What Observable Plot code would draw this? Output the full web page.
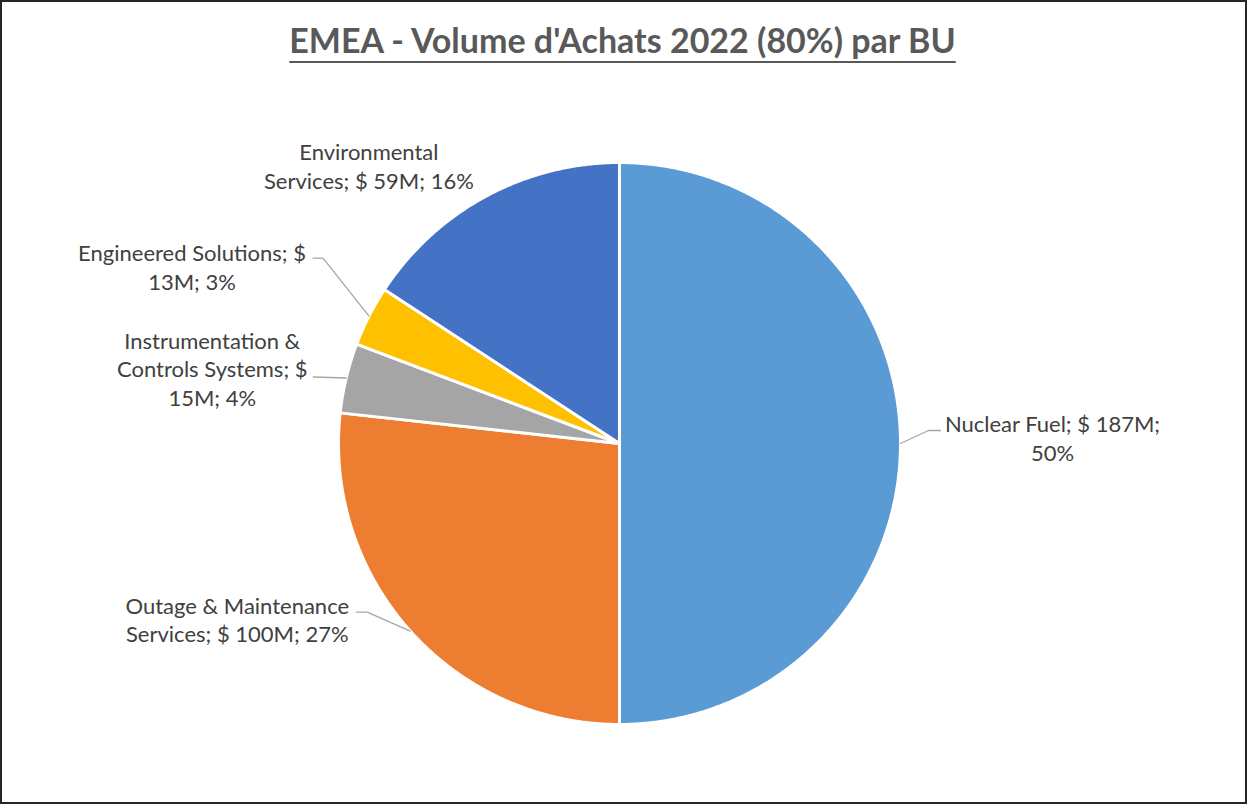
<!DOCTYPE html>
<html>
<head>
<meta charset="utf-8">
<script src="https://cdn.jsdelivr.net/npm/d3@7"></script>
<script src="https://cdn.jsdelivr.net/npm/@observablehq/plot@0.6"></script>
<style>
  body { margin: 0; background: #fff; }
  #frame { position: relative; width: 1248px; height: 805px; overflow: hidden; font-family: Lato, "Open Sans", sans-serif; background: #fff; }
  #border { position: absolute; left: 0; top: 0; width: 1247px; height: 804px; box-sizing: border-box; border: 2px solid #262626; pointer-events: none; }
  #title { position: absolute; top: 20px; left: 0; width: 1245px; text-align: center; font-weight: 700; font-size: 34px; line-height: 40px; color: #595959; text-decoration: underline; text-decoration-thickness: 2px; text-underline-offset: 8px; }
  #chart { position: absolute; left: 0; top: 100px; }
</style>
</head>
<body>
<div id="frame">
  <div id="title">EMEA - Volume d'Achats 2022 (80%) par BU</div>
  <div id="chart"></div>
  <div id="border"></div>
</div>
<script>
// ---- Data ----
const categories = [
  "Nuclear Fuel",
  "Outage & Maintenance Services",
  "Instrumentation & Controls Systems",
  "Engineered Solutions",
  "Environmental Services"
];
const values = [187, 100, 15, 13, 59];   // $ M
const colors = ["#5B9BD5", "#ED7D31", "#A5A5A5", "#FFC000", "#4472C4"];

// ---- Layout (style, pixels) ----
const W = 1248, H = 705, CX = 619, CY = 343, R = 281;
// label offsets relative to slice edge point at mid-angle; leader elbow points; wrap width (chars)
const labelLayout = {
  "Nuclear Fuel":                       { tx: 152, ty: -6,  leader: [[28, -13], [40, -13]],  wrap: 21 },
  "Outage & Maintenance Services":      { tx: -173, ty: -12, leader: [[-43, -19], [-54, -19]], wrap: 21 },
  "Instrumentation & Controls Systems": { tx: -134, ty: -10, leader: [[-33, -1]],            wrap: 19 },
  "Engineered Solutions":               { tx: -177, ty: -50, leader: [[-46, -58], [-56, -58]], wrap: 23 },
  "Environmental Services":             { tx: -117, ty: -31, leader: [],                     wrap: 20 }
};

const data = categories.map((c, i) => ({ cat: c, value: values[i] }));
const total = d3.sum(values);
const arcs = d3.pie().sort(null).value(d => d.value)(data);

function wrapText(s, width) {
  const words = s.split(" ");
  const lines = [];
  let cur = "";
  for (const w of words) {
    const t = cur ? cur + " " + w : w;
    if (t.length > width && cur) { lines.push(cur); cur = w; } else cur = t;
  }
  if (cur) lines.push(cur);
  return lines.join("\n");
}

// slice polygons
const polys = [];
arcs.forEach(a => {
  const cat = a.data.cat;
  polys.push({ cat, x: 0, y: 0 });
  const n = Math.max(2, Math.ceil((a.endAngle - a.startAngle) / 0.005));
  for (let i = 0; i <= n; i++) {
    const t = a.startAngle + (a.endAngle - a.startAngle) * i / n;
    polys.push({ cat, x: R * Math.sin(t), y: -R * Math.cos(t) });
  }
  polys.push({ cat, x: 0, y: 0 });
});

const leaders = [];
const labels = [];
arcs.forEach(a => {
  const cat = a.data.cat;
  const L = labelLayout[cat];
  const m = (a.startAngle + a.endAngle) / 2;
  const ex = R * Math.sin(m), ey = -R * Math.cos(m);
  if (L.leader.length) {
    leaders.push({ cat, x: ex, y: ey });
    L.leader.forEach(([dx, dy]) => leaders.push({ cat, x: ex + dx, y: ey + dy }));
  }
  const pct = Math.round(a.data.value / total * 100);
  const txt = `${cat}; $ ${a.data.value}M; ${pct}%`;
  labels.push({ cat, x: ex + L.tx, y: ey + L.ty, text: wrapText(txt, L.wrap) });
});

const chart = Plot.plot({
  width: W,
  height: H,
  margin: 0,
  x: { domain: [-CX, W - CX], axis: null },
  y: { domain: [-CY, H - CY], range: [0, H], axis: null },
  color: { domain: categories, range: colors },
  style: { background: "transparent", fontFamily: "Lato, sans-serif" },
  marks: [
    Plot.line(polys, { x: "x", y: "y", z: "cat", fill: "cat", stroke: "white", strokeWidth: 3, strokeLinejoin: "round" }),
    Plot.line(leaders, { x: "x", y: "y", z: "cat", stroke: "#A6A6A6", strokeWidth: 1.3 }),
    Plot.text(labels, { x: "x", y: "y", text: "text", fontSize: 22, fill: "#404040", lineHeight: 1.3, textAnchor: "middle", lineAnchor: "middle" })
  ]
});
document.getElementById("chart").appendChild(chart);
</script>
</body>
</html>
